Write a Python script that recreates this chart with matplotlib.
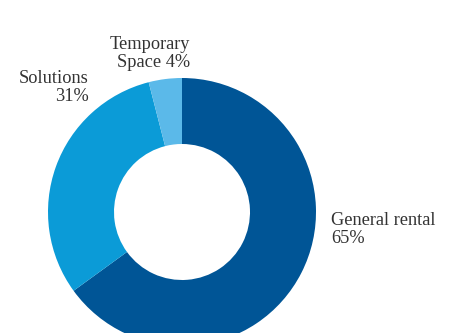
import matplotlib.pyplot as plt

segments = ['General rental', 'Solutions', 'Temporary\nSpace']
shares = [65, 31, 4]
colors = ['#005596', '#0b9bd7', '#5bb9e9']

W, H = 450, 333

fig = plt.figure(figsize=(W / 100, H / 100), dpi=100)
ax = fig.add_axes([0, 0, 1, 1])

# donut drawn clockwise from 12 o'clock, in pixel-like data units
ax.pie(shares, colors=colors, startangle=90, counterclock=False,
       center=(182, H - 212), radius=134,
       wedgeprops=dict(width=66, linewidth=0))

ax.set_xlim(0, W)
ax.set_ylim(0, H)
ax.set_aspect('equal')
ax.axis('off')

font = dict(family='Liberation Serif', fontsize=13.2, color='#333333', linespacing=1.05)
ax.text(331, H - 243, f'{segments[0]}\n{shares[0]}%', ha='left', va='baseline',
        multialignment='left', **font)
ax.text(89, H - 101, f'{segments[1]}\n{shares[1]}%', ha='right', va='baseline',
        multialignment='right', **font)
ax.text(190, H - 67, f'Temporary\nSpace {shares[2]}%', ha='right', va='baseline',
        multialignment='right', **font)

fig.savefig('out.png', dpi=100)
